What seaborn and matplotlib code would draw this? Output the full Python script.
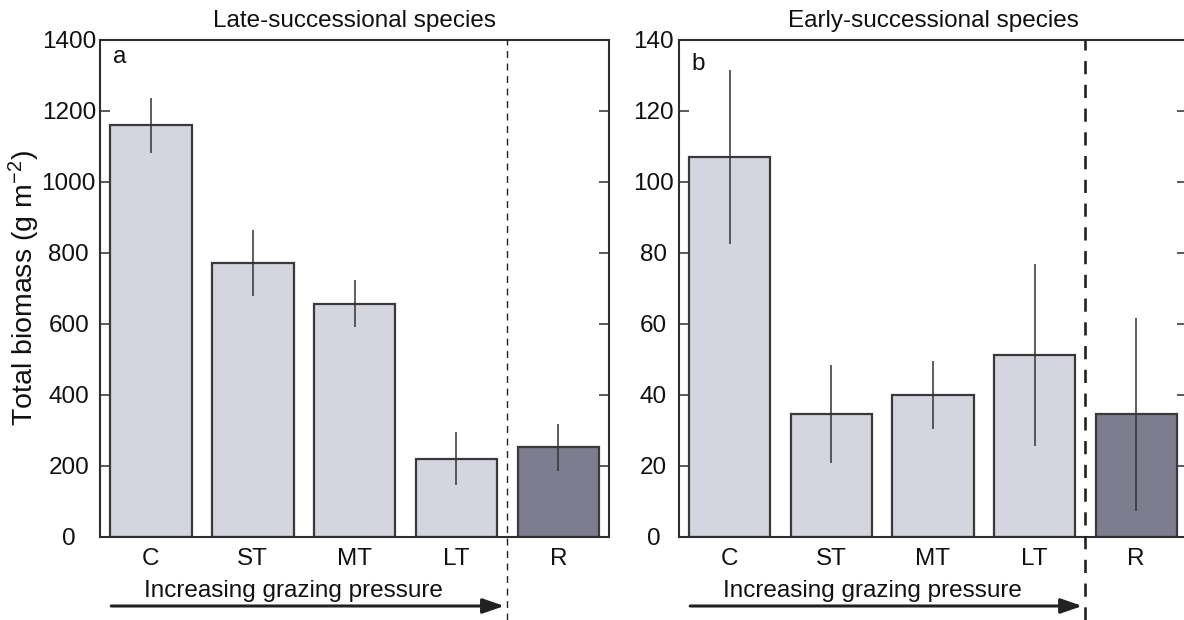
import matplotlib
matplotlib.use("Agg")
import matplotlib.pyplot as plt
import seaborn as sns
import pandas as pd

# Treatments along the grazing gradient, plus the reference site
treatments = ["C", "ST", "MT", "LT", "R"]

# Late-successional species: mean total biomass and error (g m-2)
late_mean = [1160, 772, 657, 220, 252]
late_err = [77, 92, 67, 75, 67]

# Early-successional species: mean total biomass and error (g m-2)
early_mean = [107, 34.7, 40, 51.3, 34.5]
early_err = [24.6, 13.8, 9.6, 25.6, 27.2]

panel_titles = ["Late-successional species", "Early-successional species"]
panel_letters = ["a", "b"]
late_ticks = [0, 200, 400, 600, 800, 1000, 1200, 1400]
early_ticks = [0, 20, 40, 60, 80, 100, 120, 140]
gradient_label = "Increasing grazing pressure"

light = "#d3d3e2"
dark = "#7b7a92"
edge = "#3a3a3a"
ink = "#111111"
fs = 17.5

sns.set_style("white")
plt.rcParams["font.family"] = ["Liberation Sans", "DejaVu Sans"]
plt.rcParams["mathtext.default"] = "regular"

fig = plt.figure(figsize=(11.84, 6.2), dpi=100)
ax_a = fig.add_axes([0.0845, 0.134, 0.4300, 0.8015])
ax_b = fig.add_axes([0.5735, 0.134, 0.4290, 0.8015])

panels = [
    (ax_a, late_mean, late_err, late_ticks, 1.0, 22.5, (0.0255, 0.954)),
    (ax_b, early_mean, early_err, early_ticks, 1.9, 18.5, (0.024, 0.940)),
]

for i, (ax, means, errs, ticks, dash_lw, ypad, letter_xy) in enumerate(panels):
    df = pd.DataFrame({"treatment": treatments, "biomass": means})
    sns.barplot(
        data=df, x="treatment", y="biomass", hue="treatment",
        palette=[light, light, light, light, dark], legend=False,
        width=0.8, edgecolor=edge, linewidth=1.6, ax=ax, errorbar=None,
    )
    ax.errorbar(range(len(treatments)), means, yerr=errs, fmt="none",
                ecolor="#333333", elinewidth=1.1, capsize=0, zorder=5)

    ax.set_xlim(-0.5, 4.5)
    ax.set_ylim(ticks[0], ticks[-1])
    ax.set_yticks(ticks)
    ax.set_xlabel("")
    ax.set_ylabel("")

    for s in ax.spines.values():
        s.set_visible(True)
        s.set_color("#2e2e2e")
        s.set_linewidth(1.5)

    ax.tick_params(axis="y", direction="in", length=7, width=1.1,
                   color="#2e2e2e", left=True, right=True,
                   labelsize=fs, pad=ypad, labelcolor=ink)
    for lab in ax.get_yticklabels():
        lab.set_horizontalalignment("center")
    ax.tick_params(axis="x", length=0, labelsize=fs, pad=8,
                   labelcolor=ink)

    ax.set_title(panel_titles[i], fontsize=fs, pad=9.5, color=ink)
    ax.text(letter_xy[0], letter_xy[1], panel_letters[i],
            transform=ax.transAxes, fontsize=fs, va="baseline",
            ha="left", color=ink)

    # separator between grazing treatments and reference site
    ax.axvline(3.5, ymin=-0.168, ymax=1.0, color="#222222", lw=dash_lw,
               ls=(0, (5, 4)), clip_on=False, zorder=6)

    # grazing gradient arrow under the tick labels
    tr = ax.get_xaxis_transform()
    ax.annotate("", xy=(3.47, -0.139), xytext=(-0.39, -0.139),
                xycoords=tr, textcoords=tr, annotation_clip=False,
                arrowprops=dict(arrowstyle="-|>,head_length=1.3,head_width=0.45",
                                color="#222222", lw=2.2, shrinkA=0, shrinkB=0))
    ax.text(1.4, -0.121, gradient_label, transform=tr, ha="center",
            va="baseline", fontsize=fs, color=ink)

fig.text(0.021, 0.535, "Total biomass (g m$^{-2}$)", rotation=90,
         ha="center", va="center", fontsize=20.5, color=ink)

fig.savefig("out.png", dpi=100)
